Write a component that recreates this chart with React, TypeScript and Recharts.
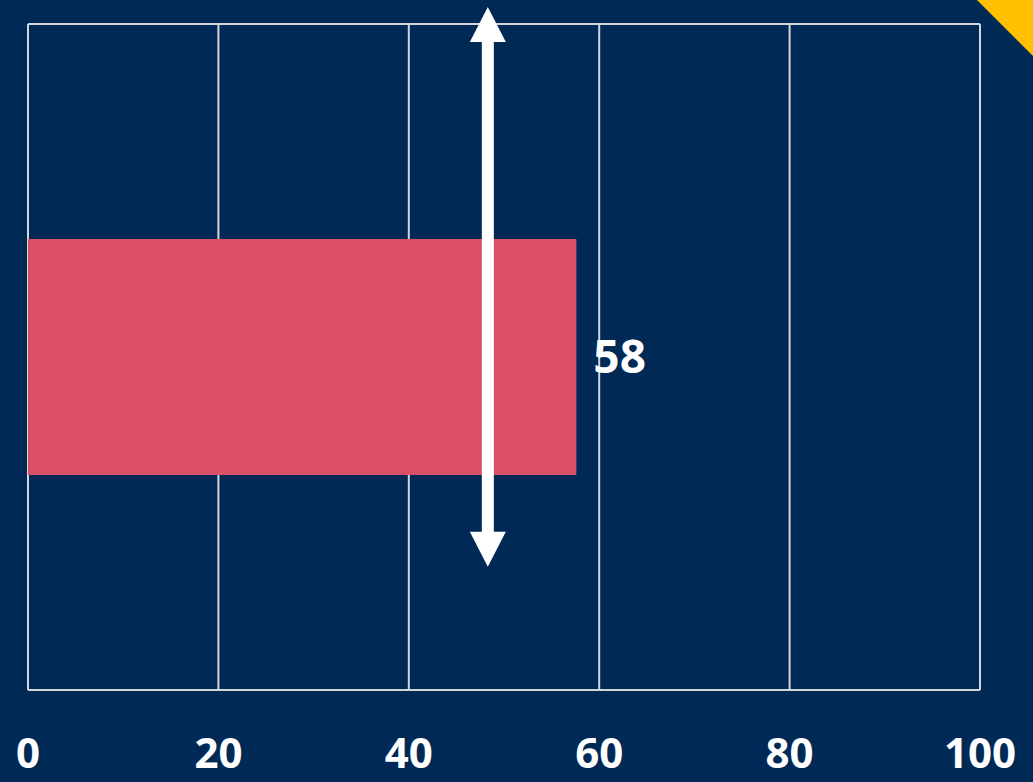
import React from 'react';
import {
  BarChart,
  Bar,
  XAxis,
  YAxis,
  CartesianGrid,
  ReferenceLine,
  LabelList,
} from 'recharts';

const categories = ['Score'];
const scores = [57.6];
const markerValue = 48.3;
const xTicks = [0, 20, 40, 60, 80, 100];

const data = categories.map((name, i) => ({ name, value: scores[i] }));

const BG = '#012956';
const GRID = '#D4D6DB';
const BAR = '#DB5068';
const FONT = '"Open Sans", "Noto Sans", sans-serif';

// double-headed arrow drawn around the reference line
const Arrow = (props: any) => {
  const { x1, y1, y2 } = props;
  const yTop = Math.min(y1, y2);
  const yBottom = Math.max(y1, y2);
  const h = yBottom - yTop;
  const top = yTop - 17;
  const bottom = yTop + h * 0.815;
  const head = 35;
  const halfHead = 18;
  const halfShaft = 6;
  return (
    <g>
      <rect x={x1 - halfShaft} y={top + head - 1} width={halfShaft * 2} height={bottom - top - 2 * head + 2} fill="#FFFFFF" />
      <polygon points={`${x1},${top} ${x1 - halfHead},${top + head} ${x1 + halfHead},${top + head}`} fill="#FFFFFF" />
      <polygon points={`${x1},${bottom} ${x1 - halfHead},${bottom - head} ${x1 + halfHead},${bottom - head}`} fill="#FFFFFF" />
    </g>
  );
};

const App: React.FC = () => {
  return (
    <div style={{ position: 'absolute', left: 0, top: 0, width: 1033, height: 782, background: BG, overflow: 'hidden' }}>
      <BarChart
        width={1033}
        height={782}
        data={data}
        layout="vertical"
        margin={{ top: 24, right: 53, bottom: 0, left: 28 }}
      >
        <CartesianGrid
          vertical
          horizontal
          horizontalCoordinatesGenerator={({ offset }: any) => [offset.top, offset.top + offset.height]}
          stroke={GRID}
          strokeWidth={2}
        />
        <XAxis
          type="number"
          domain={[0, 100]}
          ticks={xTicks}
          height={92}
          axisLine={{ stroke: GRID, strokeWidth: 2 }}
          tickLine={false}
          tickSize={0}
          tickMargin={48}
          interval={0}
          tick={{ fill: '#FFFFFF', fontSize: 42, fontWeight: 700, fontFamily: FONT }}
        />
        <YAxis type="category" dataKey="name" hide width={0} />
        <Bar dataKey="value" fill={BAR} barSize={236} isAnimationActive={false}>
          <LabelList
            dataKey="value"
            position="right"
            offset={17}
            fill="#FFFFFF"
            formatter={(v: any) => Math.round(Number(v))}
            style={{ fontSize: 46, fontWeight: 700, fontFamily: FONT }}
          />
        </Bar>
        <ReferenceLine x={markerValue} stroke="#FFFFFF" ifOverflow="visible" shape={Arrow} />
      </BarChart>
      <svg width={1033} height={782} style={{ position: 'absolute', left: 0, top: 0, pointerEvents: 'none' }}>
        <polygon points="977,0 1033,0 1033,56" fill="#FFC000" />
      </svg>
    </div>
  );
};

export default App;
